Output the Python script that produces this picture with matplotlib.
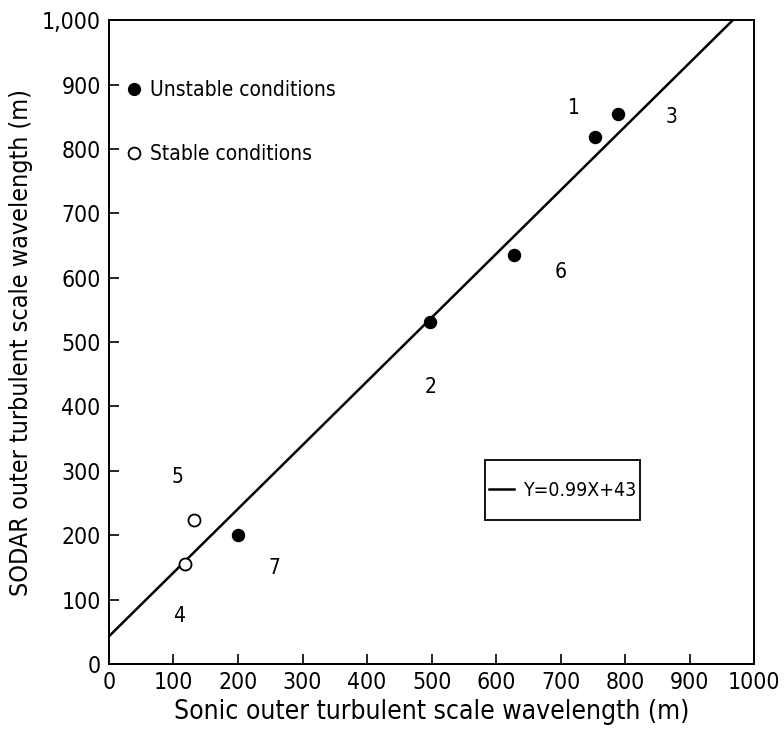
import matplotlib.pyplot as plt
from matplotlib.lines import Line2D
from matplotlib.patches import Rectangle
from matplotlib.ticker import FuncFormatter

plt.rcParams['font.family'] = ['DejaVu Sans']
plt.rcParams['font.stretch'] = 'condensed'

# unstable (filled) points
unstable_x = [754, 789, 498, 628, 200]
unstable_y = [819, 854, 532, 636, 200]
# stable (open) points
stable_x = [131, 118]
stable_y = [223, 155]

# case number labels
case_labels = ['1', '3', '6', '2', '5', '4', '7']
case_x = [720, 872, 700, 498, 106, 109, 257]
case_y = [863, 850, 609, 431, 291, 74, 149]

slope = 0.99
intercept = 43
fit_x = [0, 1000]

fig = plt.figure(figsize=(7.84, 7.34), dpi=100)
ax = fig.add_axes([0.139, 0.0954, 0.823, 0.877])

fit_y = [slope * x + intercept for x in fit_x]
line, = ax.plot(fit_x, fit_y, color='black', lw=1.8)
ax.scatter(unstable_x, unstable_y, s=75, color='black', zorder=3)
ax.scatter(stable_x, stable_y, s=75, facecolors='white', edgecolors='black',
           linewidths=1.3, zorder=3)

for lab, x, y in zip(case_labels, case_x, case_y):
    ax.text(x, y, lab, fontsize=15, ha='center', va='center')

ax.set_xlim(0, 1000)
ax.set_ylim(0, 1000)
ax.set_xticks(range(0, 1001, 100))
ax.set_yticks(range(0, 1001, 100))
ax.yaxis.set_major_formatter(FuncFormatter(lambda v, p: f'{int(v):,}'))
ax.tick_params(direction='in', length=7, width=1.2, labelsize=16.5,
               top=False, right=False)
ax.tick_params(axis='y', pad=6)
ax.tick_params(axis='x', pad=5)
for s in ax.spines.values():
    s.set_linewidth(1.4)

ax.set_xlabel('Sonic outer turbulent scale wavelength (m)', fontsize=19, labelpad=4)
ax.set_ylabel('SODAR outer turbulent scale wavelength (m)', fontsize=18, labelpad=6)

h1 = Line2D([], [], ls='none', marker='o', ms=8.5, color='black')
h2 = Line2D([], [], ls='none', marker='o', ms=8.5, mfc='white', mec='black', mew=1.3)
leg1 = ax.legend([h1, h2], ['Unstable conditions', 'Stable conditions'],
                 loc='center left', bbox_to_anchor=(0.009, 0.842), frameon=False,
                 fontsize=15, labelspacing=2.1, handlelength=1.0,
                 handletextpad=0.3, borderaxespad=0)
ax.add_artist(leg1)

# fit legend, with its own box
leg2 = ax.legend([line], [f'Y={slope}X+{intercept}'], loc='center',
                 bbox_to_anchor=(0.703, 0.27), fontsize=14, frameon=False,
                 handlelength=1.3, handletextpad=0.45, borderpad=0, borderaxespad=0)
ax.add_patch(Rectangle((0.583, 0.224), 0.24, 0.093, transform=ax.transAxes,
                       fill=False, edgecolor='black', lw=1.3, zorder=4))

fig.savefig('out.png', dpi=100)
